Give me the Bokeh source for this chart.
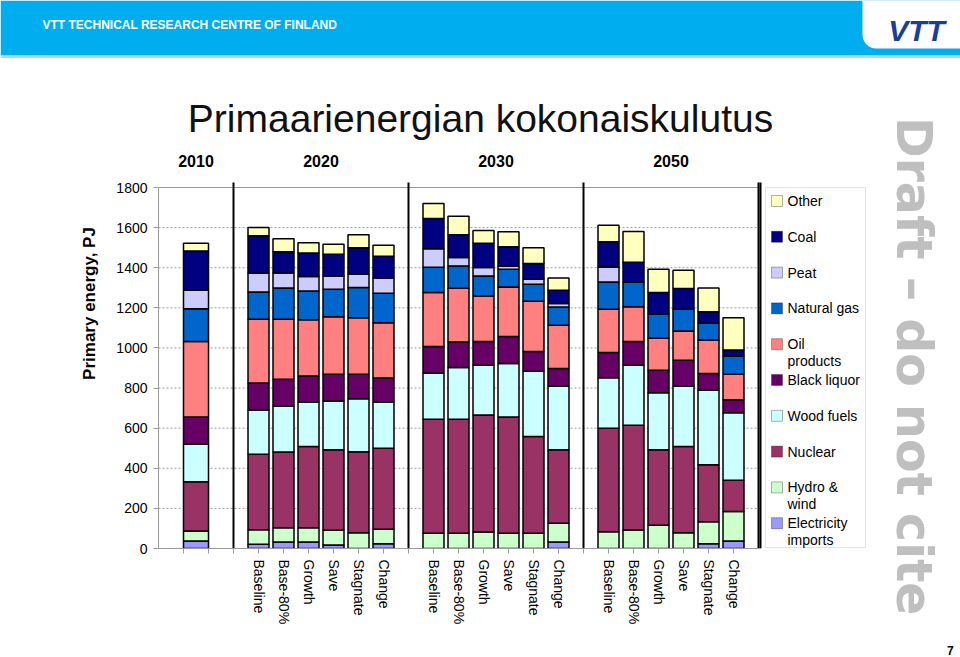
import math
from bokeh.plotting import figure
from bokeh.layouts import column, row
from bokeh.models import ColumnDataSource, Range1d, FixedTicker, Label, BoxAnnotation, Div
from bokeh.embed import file_html
from bokeh.resources import INLINE

# ---------------- data ----------------
years = ["2010", "2020", "2030", "2050"]
scenarios = ["Baseline", "Base-80%", "Growth", "Save", "Stagnate", "Change"]

series_names = ["Electricity imports", "Hydro & wind", "Nuclear", "Wood fuels", "Black liquor",
                "Oil products", "Natural gas", "Peat", "Coal", "Other"]
series_colors = ["#9999FF", "#CCFFCC", "#993366", "#CCFFFF", "#660066",
                 "#FF8080", "#0066CC", "#CCCCFF", "#000080", "#FFFFC0"]

# bar order: 2010, then 2020 / 2030 / 2050 x 6 scenarios
electricity_imports = [37, 21, 32, 32, 17, 0, 24, 0, 0, 0, 0, 0, 32, 0, 0, 0, 0, 24, 37]
hydro_wind = [50, 73, 72, 72, 74, 79, 72, 76, 76, 82, 76, 76, 94, 84, 92, 116, 79, 110, 147]
nuclear = [246, 376, 377, 404, 402, 404, 404, 568, 568, 584, 580, 483, 367, 515, 522, 377, 429, 284, 156]
wood_fuels = [187, 221, 230, 223, 243, 264, 229, 231, 258, 248, 267, 325, 316, 253, 300, 283, 302, 371, 337]
black_liquor = [136, 134, 133, 129, 133, 122, 121, 132, 128, 118, 134, 98, 88, 125, 118, 113, 129, 83, 65]
oil_products = [376, 318, 299, 280, 286, 282, 276, 269, 268, 227, 247, 251, 216, 216, 174, 159, 146, 168, 127]
natural_gas = [164, 136, 156, 144, 138, 150, 147, 126, 111, 100, 88, 85, 91, 136, 123, 123, 108, 85, 91]
peat = [92, 93, 75, 72, 66, 68, 76, 93, 42, 42, 17, 24, 17, 75, 0, 0, 0, 0, 0]
coal = [196, 187, 106, 118, 108, 131, 108, 150, 114, 121, 96, 79, 67, 125, 98, 105, 103, 56, 30]
other = [38, 41, 65, 51, 50, 64, 55, 75, 92, 63, 74, 78, 61, 83, 153, 116, 91, 118, 160]

y_ticks = [0, 200, 400, 600, 800, 1000, 1200, 1400, 1600, 1800]

series_values = [electricity_imports, hydro_wind, nuclear, wood_fuels, black_liquor,
                 oil_products, natural_gas, peat, coal, other]

# ---------------- layout geometry (page pixels) ----------------
PAGE_W, PAGE_H = 960, 657
HEAD_H = 58
MAIN_W = 880
FRAME_L, FRAME_B = 158, 548        # main frame left / bottom (page px)
SLOT = 25.0                        # px per category slot
U0_PX = 183.0                      # page x of slot 0
Y_TOP_PX = 187.0                   # page y of 1800
Y_MAX = 1800.0
PX_PER_UNIT = (FRAME_B - Y_TOP_PX) / Y_MAX


def ux(X):
    return (X - U0_PX) / SLOT


def vy(Y):
    return (FRAME_B - Y) / PX_PER_UNIT


# ---------------- positions (slot units) ----------------
xs, widths, labels = [0.5], [1.0], [""]
group_centers = [0.5]
separators = [2]
for gi in range(3):
    start = 3 + 7 * gi
    for i, s in enumerate(scenarios):
        xs.append(start + i)
        widths.append(0.84)
        labels.append(s)
    group_centers.append(start + 2.5)
    separators.append(start + 6)
x_left = -1.0
x_right = ux(760)

data = {"x": xs, "w": widths}
for n, v in zip(series_names, series_values):
    data[n] = v
src = ColumnDataSource(data)

FONT = "Liberation Sans"

# ---------------- main chart ----------------
main_h = PAGE_H - HEAD_H
p = figure(width=MAIN_W, height=main_h,
           x_range=Range1d(x_left, ux(MAIN_W)), y_range=Range1d(0, vy(HEAD_H)),
           output_backend="svg", toolbar_location=None,
           min_border_left=FRAME_L, min_border_right=0, min_border_top=0,
           min_border_bottom=PAGE_H - FRAME_B)
p.background_fill_color = "white"
p.border_fill_color = "white"
p.outline_line_color = None
p.xgrid.visible = False
p.ygrid.visible = False

# dotted grid lines and top frame line
p.segment(x0=x_left, x1=x_right, y0=y_ticks[1:-1], y1=y_ticks[1:-1],
          line_color="#9A9A9A", line_width=1, line_dash="2 2")
p.segment(x0=x_left, x1=x_right, y0=Y_MAX, y1=Y_MAX, line_color="#9A9A9A", line_width=1)

p.vbar_stack(series_names, x="x", width="w", color=series_colors, source=src,
             line_color="black", line_width=1.5)

sep_x = separators + [x_right]
p.segment(x0=sep_x, x1=sep_x, y0=0, y1=Y_MAX + 5 / PX_PER_UNIT, line_color="black", line_width=2)

# x axis
p.xaxis.bounds = (x_left, x_right)
p.xaxis.ticker = FixedTicker(ticks=list(range(0, 23)))
p.xaxis.major_label_overrides = {t: "" for t in range(0, 23)}
p.xaxis.major_label_overrides.update({x: l for x, l in zip(xs[1:], labels[1:])})
p.xaxis.major_label_orientation = "vertical"
p.xaxis.major_label_text_font = FONT
p.xaxis.major_label_text_font_size = "14px"
p.xaxis.major_label_text_color = "black"
p.xaxis.major_label_standoff = 6
p.xaxis.axis_line_color = "#9A9A9A"
p.xaxis.major_tick_line_color = "#9A9A9A"
p.xaxis.major_tick_out = 5
p.xaxis.major_tick_in = 0
p.xaxis.minor_tick_line_color = None

# y axis
p.yaxis.bounds = (0, Y_MAX)
p.yaxis.ticker = FixedTicker(ticks=y_ticks)
p.yaxis.major_label_text_font = FONT
p.yaxis.major_label_text_font_size = "14px"
p.yaxis.major_label_text_color = "black"
p.yaxis.major_label_standoff = 6
p.yaxis.axis_line_color = "#9A9A9A"
p.yaxis.major_tick_line_color = "#9A9A9A"
p.yaxis.major_tick_out = 5
p.yaxis.major_tick_in = 0
p.yaxis.minor_tick_line_color = None
p.yaxis.axis_label = "Primary energy, PJ"
p.yaxis.axis_label_text_font = FONT
p.yaxis.axis_label_text_font_style = "bold"
p.yaxis.axis_label_text_font_size = "17px"
p.yaxis.axis_label_text_color = "black"
p.yaxis.axis_label_standoff = 14

# title
p.add_layout(Label(x=ux(480), y=vy(118), text="Primaarienergian kokonaiskulutus", text_font=FONT,
                   text_font_size="39px", text_color="#111111", text_align="center",
                   text_baseline="alphabetic"))

# year labels
for gx, yr in zip(group_centers, years):
    p.add_layout(Label(x=gx, y=vy(160), text=yr, text_font=FONT, text_font_style="bold",
                       text_font_size="16px", text_color="black", text_align="center",
                       text_baseline="middle"))

# legend (top entry = top of stack)
LEG_TOP, LEG_BOT = 187, 547
p.add_layout(BoxAnnotation(left=ux(765), right=ux(865), top=vy(LEG_TOP), bottom=vy(LEG_BOT),
                           fill_alpha=0, line_color="#A0A0A0", line_width=1))
legend_lines = {"Oil products": ["Oil", "products"], "Hydro & wind": ["Hydro &", "wind"],
                "Electricity imports": ["Electricity", "imports"]}
step = 35.8
for k, (name, col) in enumerate(zip(series_names[::-1], series_colors[::-1])):
    yc = 200.5 + step * k
    p.add_layout(BoxAnnotation(left=ux(771), right=ux(782), top=vy(yc - 5.5), bottom=vy(yc + 5.5),
                               fill_color=col, fill_alpha=1, line_color="black", line_width=1))
    for j, line in enumerate(legend_lines.get(name, [name])):
        p.add_layout(Label(x=ux(787), y=vy(yc + 16.5 * j), text=line, text_font=FONT,
                           text_font_size="14px", text_color="black", text_align="left",
                           text_baseline="middle"))

# ---------------- header band ----------------
h = figure(width=PAGE_W, height=HEAD_H, x_range=Range1d(0, PAGE_W), y_range=Range1d(0, HEAD_H),
           output_backend="svg", toolbar_location=None, x_axis_location=None, y_axis_location=None,
           min_border=0)
h.outline_line_color = None
h.grid.visible = False
h.background_fill_color = "white"
h.border_fill_color = "white"
h.add_layout(BoxAnnotation(left=0, right=PAGE_W, top=HEAD_H, bottom=HEAD_H - 55,
                           fill_color="#00AEEF", fill_alpha=1, line_color=None))
h.add_layout(BoxAnnotation(left=0, right=PAGE_W, top=HEAD_H - 55, bottom=0,
                           fill_color="#A6DFF7", fill_alpha=1, line_color=None))
h.add_layout(BoxAnnotation(left=862, right=PAGE_W, top=HEAD_H, bottom=HEAD_H - 48,
                           fill_color="white", fill_alpha=1, line_color=None,
                           border_radius=(0, 0, 0, 14)))
h.add_layout(Label(x=42, y=HEAD_H - 24, text="VTT TECHNICAL RESEARCH CENTRE OF FINLAND", text_font=FONT,
                   text_font_style="bold", text_font_size="12px", text_color="white",
                   text_baseline="middle", text_align="left"))
h.add_layout(Label(x=916, y=HEAD_H - 30, text="VTT", text_font=FONT, text_font_style="bold italic",
                   text_font_size="30px", text_color="#1B3F94", text_baseline="middle",
                   text_align="center"))

# ---------------- right strip (watermark, page no.) ----------------
side_w = PAGE_W - MAIN_W
side_html = (
    f'<div style="position:relative;width:{side_w}px;height:{main_h}px;overflow:visible;">'
    '<div style="position:absolute;left:4px;top:54px;writing-mode:vertical-rl;'
    "font-family:'DejaVu Sans';font-weight:bold;font-size:49px;line-height:49px;"
    'color:#BFBFBF;white-space:nowrap;">Draft \u2013 do not cite</div>'
    '<div style="position:absolute;left:62px;top:581px;'
    "font-family:'Liberation Sans';font-weight:bold;font-size:12px;line-height:14px;"
    'color:black;">7</div>'
    '</div>'
)
s = Div(text=side_html, width=side_w, height=main_h)

layout = column(h, row(p, s, spacing=0), spacing=0)
open("out.html", "w").write(file_html(layout, INLINE))
